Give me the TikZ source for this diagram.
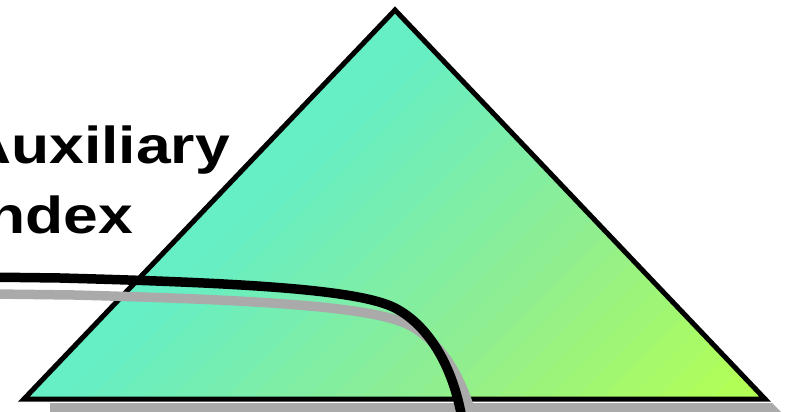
\documentclass[tikz,border=0pt]{standalone}
\usepackage{fontspec}
\setmainfont{Liberation Sans}
\usepackage{graphicx}
\usepackage{tikz}

\definecolor{tricyan}{HTML}{66EEC4}
\definecolor{trigreen}{HTML}{90EE90}
\definecolor{trilime}{HTML}{B2FF55}
\definecolor{shadowgray}{HTML}{AAAAAA}

% the route through the index
\newcommand{\routepath}{(-20,277) -- (60,278)
  .. controls (250,283) and (360,290) .. (395,308)
  .. controls (430,326) and (455,370) .. (463,425)}

\begin{document}
\begin{tikzpicture}[
  x=1pt, y=-1pt,
  heading/.style={font=\bfseries\fontsize{52}{60}\selectfont, anchor=base west, inner sep=0pt},
  outline/.style={line width=5pt, line join=miter},
  track/.style={line width=9.5pt}
]
\useasboundingbox (0,0) rectangle (787,412);
\clip (0,0) rectangle (787,412);
% corners of the triangle
\coordinate (top) at (395,10);
\coordinate (left) at (24,399);
\coordinate (right) at (765,399);
% shadow under the base
\fill[shadowgray] (50,403) -- (772,403) -- (781,412) -- (50,412) -- cycle;
% banded fill, cyan to lime
\begin{scope}
  \clip (top) -- (left) -- (right) -- cycle;
  \foreach \k in {0,...,29} {
    \pgfmathsetmacro\s{380+27*\k}
    \pgfmathtruncatemacro\pa{max(0,min(100,(\s-450)/3.5))}
    \pgfmathtruncatemacro\pb{max(0,min(100,(\s-800)/3.2))}
    \colorlet{mixa}{trigreen!\pa!tricyan}
    \fill[trilime!\pb!mixa] (\s,0) -- (\s+28,0) -- (\s+28-420,420) -- (\s-420,420) -- cycle;
  }
\end{scope}
\draw[outline] (top) -- (left) -- (right) -- cycle;
% the route and its shadow
\begin{scope}[shift={(14,17)}]
  \draw[track, shadowgray] \routepath;
\end{scope}
\draw[track] \routepath;
% label
\node[heading] (aux) at (-34,163) {\scalebox{1.2}[1]{Auxiliary}};
\node[heading] (idx) at (-30,233) {\scalebox{1.2}[1]{Index}};
\end{tikzpicture}
\end{document}
